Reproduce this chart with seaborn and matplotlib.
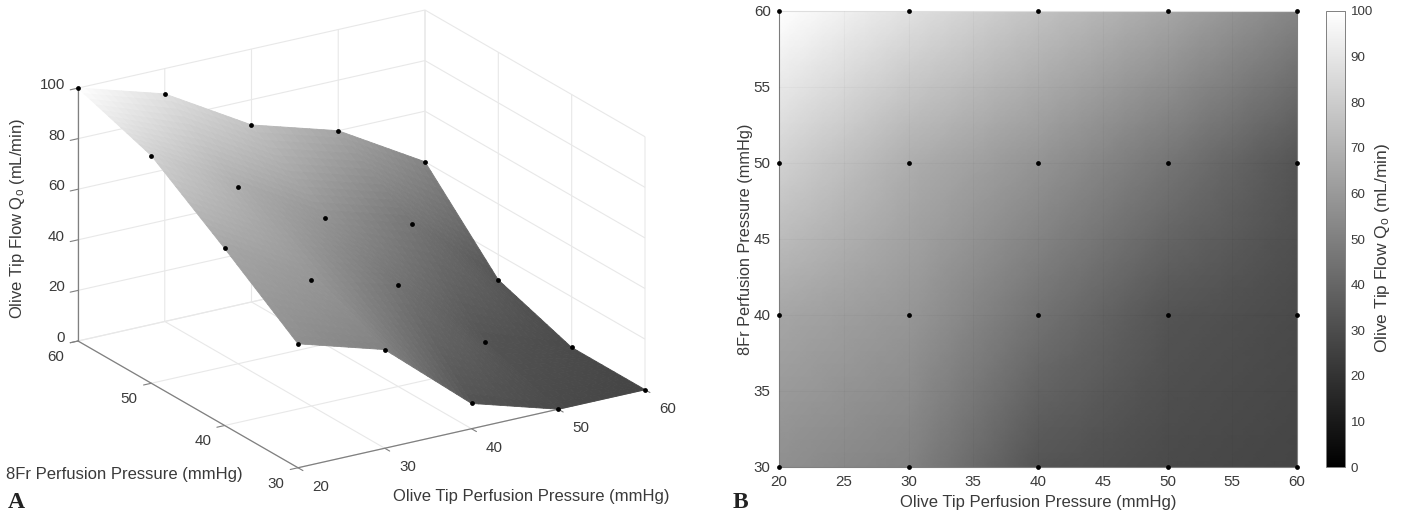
import numpy as np
import matplotlib
matplotlib.use("Agg")
import matplotlib.pyplot as plt
from matplotlib.ticker import NullFormatter
import seaborn as sns
from mpl_toolkits.mplot3d import proj3d

olive = [20, 30, 40, 50, 60]
fr8 = [30, 40, 50, 60]
# flow values, rows = 8Fr pressure, columns = olive tip pressure
flow = [[49, 39, 10, 0, 0],
        [70, 50, 40, 10, 0],
        [90, 70, 50, 40, 10],
        [100, 90, 70, 60, 40]]
# displayed surface shade (percent of the grey scale), as printed
shade = [[56, 51, 33, 29, 27],
         [65, 59, 45, 33, 29],
         [82, 68, 58, 46, 33],
         [100, 88, 76, 65, 52]]
zticks = [0, 20, 40, 60, 80, 100]
cticks = list(range(0, 101, 10))
xticks_r = list(range(20, 61, 5))
yticks_r = list(range(30, 61, 5))

W, H = 1401, 515
sns.set_theme(style="white")
plt.rcParams["font.family"] = ["Liberation Sans", "DejaVu Sans"]
plt.rcParams["mathtext.default"] = "regular"
TXT = "#3a3a3a"
AX = "#808080"
FS = 10.9
LS = 12.0

fig = plt.figure(figsize=(W / 100, H / 100), dpi=100)

def fx(x): return x / W
def fy(y): return 1 - y / H

x = np.array(olive, float)
y = np.array(fr8, float)
Z = np.array(flow, float)
C = np.array(shade, float)

# ---- panel A
def refine(M, n=12):
    """Sub-divide each cell for smooth (interpolated) shading."""
    ii = np.linspace(0, M.shape[0] - 1, (M.shape[0] - 1) * n + 1)
    jj = np.linspace(0, M.shape[1] - 1, (M.shape[1] - 1) * n + 1)
    tmp = np.array([np.interp(jj, np.arange(M.shape[1]), r) for r in M])
    return np.array([np.interp(ii, np.arange(M.shape[0]), c) for c in tmp.T]).T

S = 560.0
cx, cy = 360.0, 240.0
ax = fig.add_axes([fx(cx - S / 2), fy(cy + S / 2), S / W, S / H], projection="3d")
ax.set_proj_type("ortho")
ax.view_init(elev=21.1, azim=-122)
ax.set_box_aspect((409, 415, 271))
ax.set_xlim(20, 60)
ax.set_ylim(30, 60)
ax.set_zlim(0, 100)
ax.patch.set_alpha(0)
ax.computed_zorder = False

XX, YY = refine(np.tile(x, (len(y), 1))), refine(np.tile(y[:, None], (1, len(x))))
ZZ, CC = refine(Z), refine(C)
fc = plt.get_cmap("gray")(CC / 100)
surf = ax.plot_surface(XX, YY, ZZ, facecolors=fc, rstride=1, cstride=1, shade=False,
                       linewidth=0.6, antialiased=True, zorder=2)
GX, GY = np.meshgrid(x, y)
ax.scatter(GX.ravel(), GY.ravel(), Z.ravel(), s=12, c="black", depthshade=False,
           linewidths=0, zorder=3)

ax.set_xticks(olive)
ax.set_yticks(fr8)
ax.set_zticks(zticks)
for a in (ax.xaxis, ax.yaxis, ax.zaxis):
    a.set_pane_color((1, 1, 1, 0))
    a.pane.set_edgecolor("#e6e6e6")
    a.line.set_color(AX)
    a.line.set_linewidth(0.9)
    a._axinfo["grid"].update(color="#e8e8e8", linewidth=0.8)
    a._axinfo["tick"].update(inward_factor=0.28, outward_factor=0.0)
    a._axinfo["tick"]["linewidth"] = {True: 0.8, False: 0.5}
    a.set_major_formatter(NullFormatter())
ax.tick_params(axis="both", color=AX)
ax.tick_params(axis="z", color=AX)
ax.grid(True)

# fit the projected box to the wanted pixel corners
fig.canvas.draw()
def disp(px, py, pz):
    X, Y, _ = proj3d.proj_transform(px, py, pz, ax.get_proj())
    return ax.transData.transform((X, Y))
A = disp(20, 60, 0)
B = disp(60, 30, 0)
tA = np.array([78.0, H - 341.0])
tB = np.array([645.0, H - 390.0])
k = (tB[0] - tA[0]) / (B[0] - A[0])
S2 = S * k
ctr = np.array([cx, H - cy])
ctr2 = tA - (A - ctr) * k
ax.set_position([ctr2[0] / W - S2 / 2 / W, ctr2[1] / H - S2 / 2 / H, S2 / W, S2 / H])
fig.canvas.draw()

def tick_text(px, py, pz, s, dx, dy, ha="center"):
    p = disp(px, py, pz)
    fig.text((p[0] + dx) / W, (p[1] - dy) / H, str(s), fontsize=FS, color=TXT, ha=ha, va="center")

for v in olive:
    tick_text(v, 30, 0, v, 23, 19)
for v in fr8:
    tick_text(20, v, 0, v, -22, 16)
for v in zticks:
    tick_text(20, 60, v, v, -13, -3, ha="right")

fig.text(fx(393), fy(497), "Olive Tip Perfusion Pressure (mmHg)", fontsize=LS, color=TXT,
         ha="left", va="center")
fig.text(fx(6), fy(474), "8Fr Perfusion Pressure (mmHg)", fontsize=LS, color=TXT,
         ha="left", va="center")
fig.text(fx(18), fy(218), "Olive Tip Flow Q$_{o}$ (mL/min)", fontsize=LS, color=TXT,
         rotation=90, ha="center", va="center")
fig.text(fx(8), fy(502), "A", family="Liberation Serif", weight="bold", fontsize=17,
         color="#222222", ha="left", va="center")
fig.text(fx(733), fy(502), "B", family="Liberation Serif", weight="bold", fontsize=17,
         color="#222222", ha="left", va="center")

# ---- panel B
L, R, T, Bt = 779, 1297, 11, 467
ax2 = fig.add_axes([fx(L), fy(Bt), (R - L) / W, (Bt - T) / H])
mesh = ax2.pcolormesh(XX, YY, CC, shading="gouraud", cmap="gray", vmin=0, vmax=100)
ax2.set_xlim(20, 60)
ax2.set_ylim(30, 60)
ax2.set_xticks(xticks_r)
ax2.set_yticks(yticks_r)
ax2.grid(True, color="#000000", alpha=0.025, linewidth=0.8)
ax2.set_axisbelow(False)
ax2.tick_params(labelsize=FS, labelcolor=TXT, length=3, width=0.7, color=AX, direction="in", pad=6)
for n, s in ax2.spines.items():
    s.set_color(AX)
    s.set_linewidth(0.8)
ax2.spines["top"].set_color("#e4e4e4")
ax2.set_xlabel("Olive Tip Perfusion Pressure (mmHg)", fontsize=LS, color=TXT, labelpad=3.8)
ax2.set_ylabel("8Fr Perfusion Pressure (mmHg)", fontsize=11.7, color=TXT, labelpad=0.7)
sns.scatterplot(x=GX.ravel(), y=GY.ravel(), color="black", s=12, linewidth=0, ax=ax2,
                clip_on=False, zorder=5, legend=False)

cax = fig.add_axes([fx(1326), fy(467), 19 / W, 456 / H])
sm = plt.cm.ScalarMappable(norm=plt.Normalize(0, 100), cmap="gray")
cb = fig.colorbar(sm, cax=cax, ticks=cticks)
cb.outline.set_edgecolor(AX)
cb.outline.set_linewidth(0.7)
cax.tick_params(labelsize=9.6, labelcolor=TXT, length=2, width=0.6, color=AX, direction="in", pad=4)
cb.set_label("Olive Tip Flow Q$_{o}$ (mL/min)", fontsize=12.5, color=TXT, labelpad=0, y=0.481)

fig.savefig("out.png", dpi=100)
